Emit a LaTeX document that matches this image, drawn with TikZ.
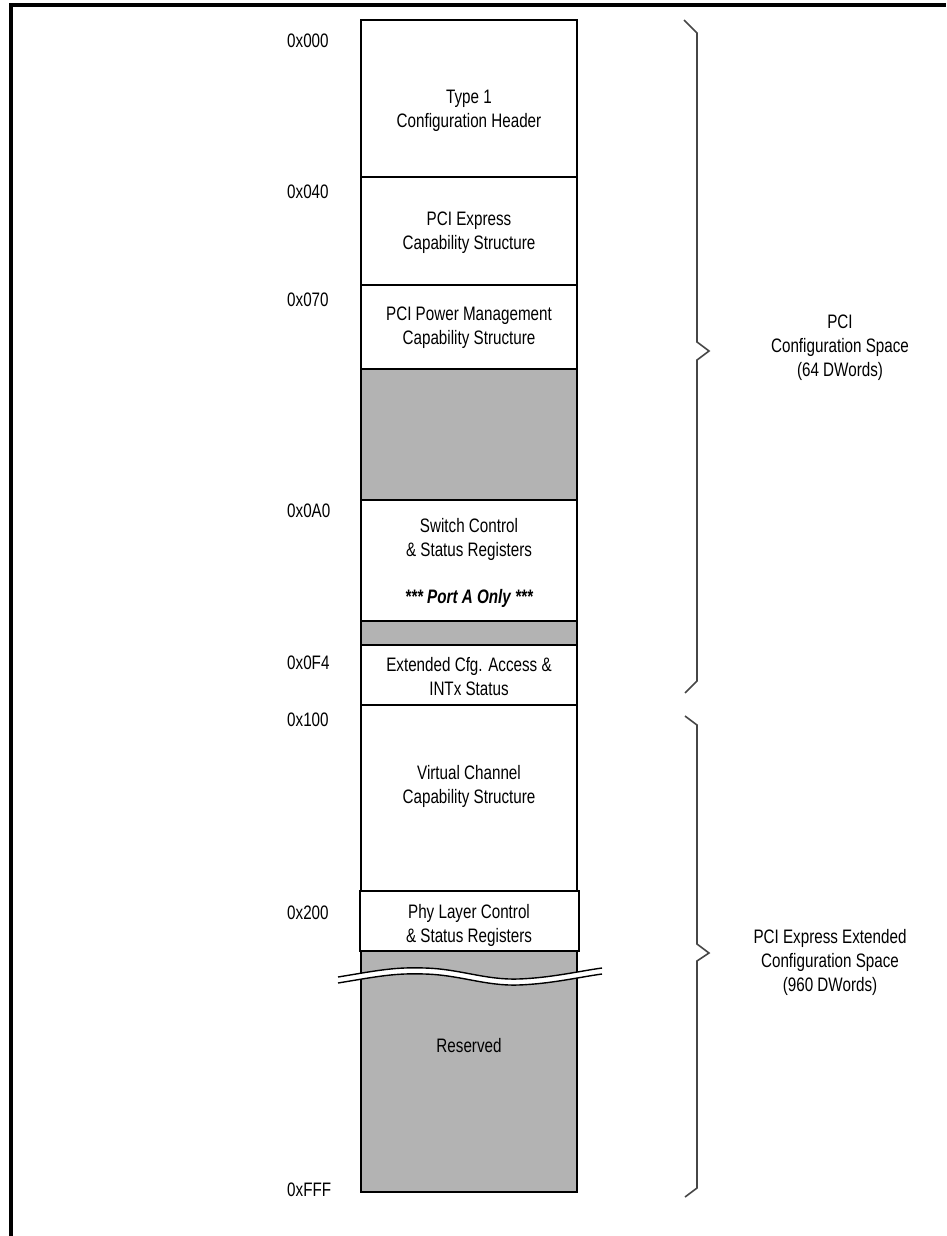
\documentclass[tikz,border=0pt]{standalone}
\usepackage{fontspec}
\setmainfont[FakeStretch=0.78]{Liberation Sans}
\definecolor{cfggray}{RGB}{179,179,179}
\definecolor{bracegray}{RGB}{70,70,70}
\begin{document}
\begin{tikzpicture}[x=1pt,y=-1pt,
  box/.style={draw, line width=2pt, anchor=north west, inner sep=0pt, outer sep=0pt, minimum width=216pt},
  graybox/.style={box, fill=cfggray},
  txt/.style={align=center, font=\fontsize{19.5}{24}\selectfont, inner sep=0pt},
  addr/.style={anchor=west, font=\fontsize{19.5}{24}\selectfont, inner sep=0pt},
  bracepath/.style={draw=bracegray, line width=1.6pt},
  frame/.style={line width=4pt}]
\useasboundingbox (0,0) rectangle (946,1236);
% frame
\draw[frame] (11,1236) -- (11,5) -- (946,5);
% boxes
\node[box, minimum height=157pt] (hdr) at (361,20) {};
\node[box, minimum height=108pt] (pcie) at (361,177) {};
\node[box, minimum height=84pt] (pm) at (361,285) {};
\node[graybox, minimum height=131pt] (g1) at (361,369) {};
\node[box, minimum height=121pt] (sw) at (361,500) {};
\node[graybox, minimum height=24pt] (g2) at (361,621) {};
\node[box, minimum height=60pt] (ext) at (361,645) {};
\node[box, minimum height=186pt] (vc) at (361,705) {};
\node[graybox, minimum height=241pt] (res) at (361,951) {};
\node[box, fill=white, minimum width=219pt, minimum height=60pt] (phy) at (359.5,891) {};
% break wave
\fill[white] (338,977) .. controls (380,970) and (395,967) .. (425,968) .. controls (460,969) and (485,980) .. (518,979) .. controls (550,978) and (580,971) .. (602,968)
  -- (602,974) .. controls (580,977) and (550,984) .. (518,985) .. controls (485,986) and (460,975) .. (425,974) .. controls (395,973) and (380,976) .. (338,983) -- cycle;
\draw[line width=1.4pt] (338,977) .. controls (380,970) and (395,967) .. (425,968) .. controls (460,969) and (485,980) .. (518,979) .. controls (550,978) and (580,971) .. (602,968);
\draw[line width=1.4pt] (338,983) .. controls (380,976) and (395,973) .. (425,974) .. controls (460,975) and (485,986) .. (518,985) .. controls (550,984) and (580,977) .. (602,974);
% box texts
\node[txt] (thdr) at (469,111) {Type 1\\Configuration Header};
\node[txt] (tpcie) at (469,233) {PCI Express\\Capability Structure};
\node[txt] (tpm) at (469,328) {PCI Power Management\\Capability Structure};
\node[txt] (tsw) at (469,539) {Switch Control\\\& Status Registers};
\node[txt] (tport) at (469,598) {\bfseries\itshape *** Port A Only ***};
\node[txt] (text) at (469,677) {Extended Cfg. Access \&\\INTx Status};
\node[txt] (tvc) at (469,786) {Virtual Channel\\Capability Structure};
\node[txt] (tphy) at (469,925) {Phy Layer Control\\\& Status Registers};
\node[txt] (tres) at (469,1046) {Reserved};
% addresses
\node[addr] (a000) at (287,41) {0x000};
\node[addr] (a040) at (287,192) {0x040};
\node[addr] (a070) at (287,300) {0x070};
\node[addr] (a0a0) at (287,511) {0x0A0};
\node[addr] (a0f4) at (287,663) {0x0F4};
\node[addr] (a100) at (287,720) {0x100};
\node[addr] (a200) at (287,913) {0x200};
\node[addr] (afff) at (287,1190) {0xFFF};
% braces
\coordinate (b1s) at (684,20);
\coordinate (b1e) at (685,693);
\coordinate (b2s) at (685,716);
\coordinate (b2e) at (685,1197);
\draw[bracepath] (b1s) -- (697,33) -- (697,342) -- (709,351) -- (697,360) -- (697,681) -- (b1e);
\draw[bracepath] (b2s) -- (697,725) -- (697,944) -- (709,953) -- (697,961) -- (697,1188) -- (b2e);
\node[txt] (l1) at (840,348) {PCI\\Configuration Space\\(64 DWords)};
\node[txt] (l2) at (830,962) {PCI Express Extended\\Configuration Space\\(960 DWords)};
\end{tikzpicture}
\end{document}
